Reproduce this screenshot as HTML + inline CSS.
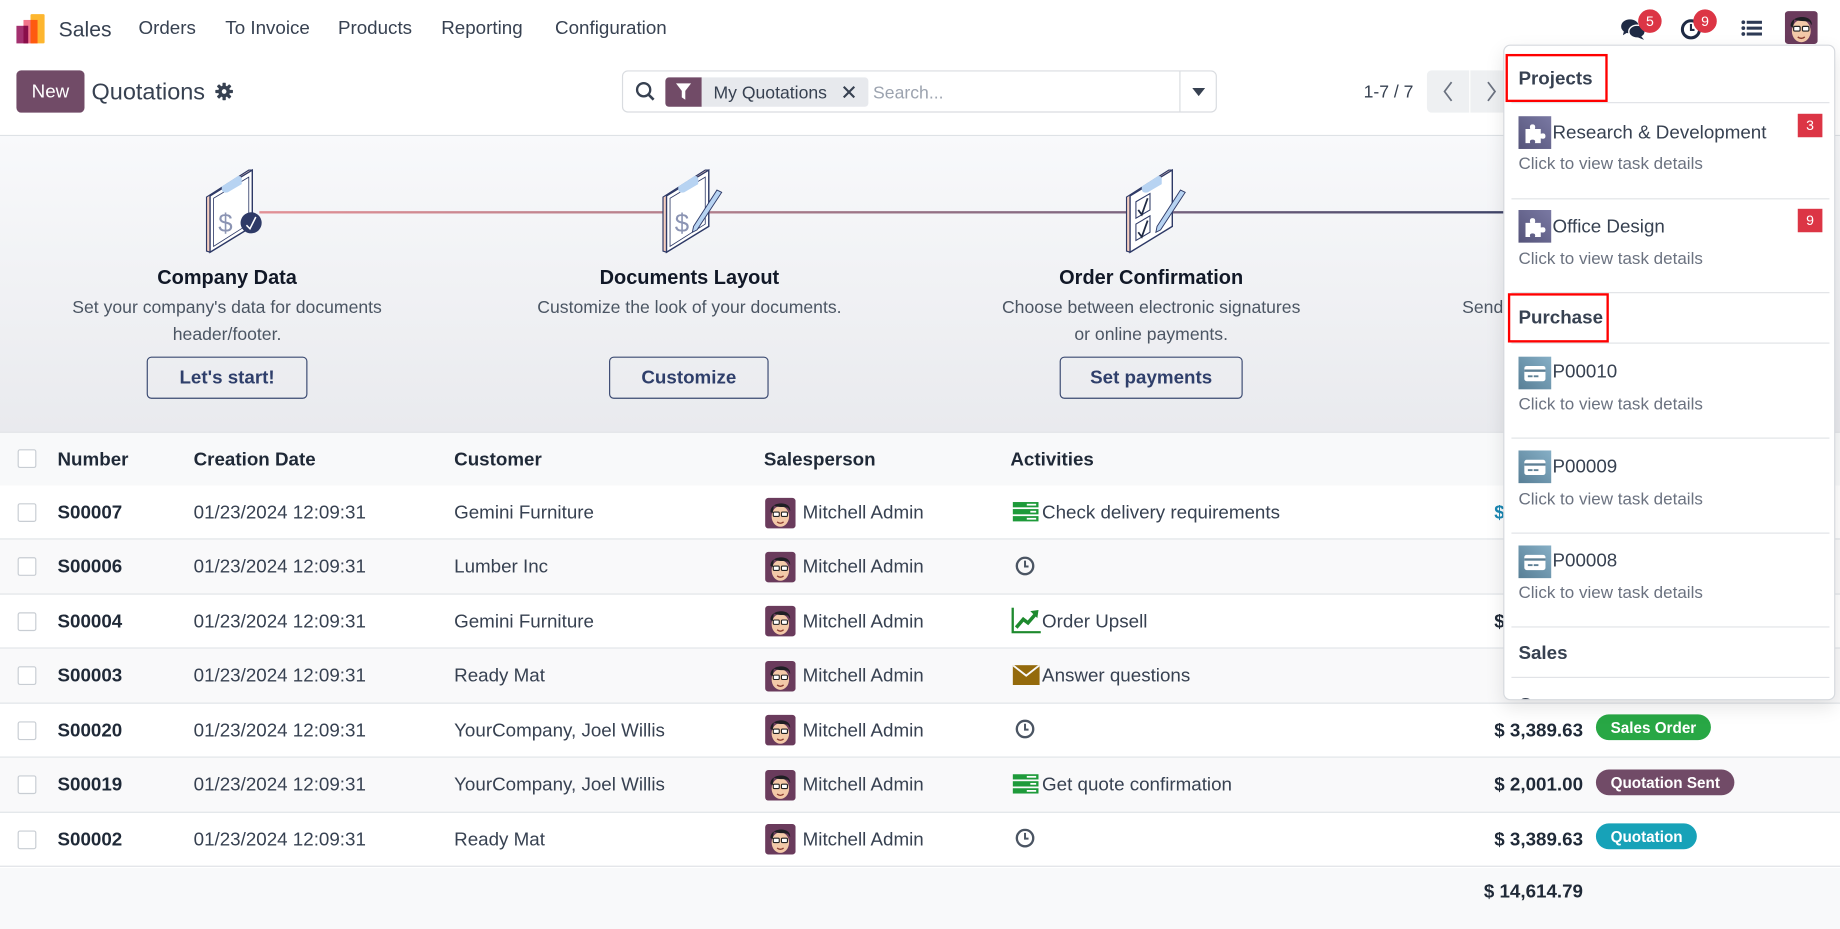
<!DOCTYPE html>
<html><head><meta charset="utf-8">
<style>
html,body{margin:0;padding:0;width:1840px;height:929px;overflow:hidden;background:#fff;}
#root{position:absolute;left:0;top:0;width:1568px;height:792px;transform:scale(1.17347,1.17298);transform-origin:0 0;font-family:"Liberation Sans",Arial,sans-serif;color:#374151;overflow:hidden;background:#fff;}
.a{position:absolute;white-space:nowrap;}
.nav{top:1px;line-height:48px;font-size:16px;color:#374151;}
.hero-col{position:absolute;width:394px;text-align:center;}
.ttl{font-size:17px;font-weight:bold;color:#111827;line-height:22px;}
.desc{font-size:15px;color:#4b5563;line-height:23px;}
.hbtn{position:absolute;top:304px;height:34px;border:1px solid #3b4a72;border-radius:4px;font-size:16px;font-weight:bold;color:#2f3f6b;line-height:36px;text-align:center;}
.row{position:absolute;left:0;width:1568px;height:46.43px;box-sizing:border-box;border-bottom:1px solid #dee2e6;font-size:16px;}
.row .a{line-height:46px;top:1px;}
.row svg.a{top:auto;}
.cb{position:absolute;left:15px;width:14px;height:14px;border:1px solid #c8cdd3;background:#fff;border-radius:2px;}
.num{font-weight:bold;color:#1f2937;}
.amt{font-weight:bold;color:#1f2937;text-align:right;}
.badge{position:absolute;height:22px;line-height:23px;border-radius:11px;color:#fff;font-size:13px;font-weight:bold;padding:0 12.5px;}
.dd{position:absolute;left:1281px;top:38px;width:281px;height:557px;background:#fff;border:1px solid #d6d9de;border-radius:6px;box-shadow:0 6px 16px rgba(0,0,0,0.10);overflow:hidden;z-index:10;}
.sep{position:absolute;left:6px;width:271px;height:0;border-top:1.5px solid #e1e3e7;}
.dh{position:absolute;left:12px;font-size:16px;font-weight:bold;color:#374151;line-height:20px;}
.di{position:absolute;left:41px;font-size:16px;color:#374151;line-height:20px;}
.ds{position:absolute;left:12px;font-size:14.5px;color:#6b7280;line-height:20px;}
.rb{position:absolute;border:2px solid #f00;}
.dbad{position:absolute;left:250px;width:21px;height:20px;background:#dc3545;color:#fff;font-size:12px;line-height:20px;text-align:center;}
</style></head>
<body><div id="root">

<!-- NAVBAR -->
<div class="a" style="left:26px;top:12px;width:12px;height:25px;background:#fdb62f;border-radius:1px"></div>
<div class="a" style="left:19.5px;top:17px;width:9px;height:20px;background:#f2758b"></div>
<div class="a" style="left:25.5px;top:17px;width:6px;height:20px;background:#fe5a10"></div>
<div class="a" style="left:13.5px;top:22px;width:10px;height:15px;background:#a3306f"></div>
<div class="a" style="left:19.5px;top:22px;width:4px;height:15px;background:#8a0e4a"></div>
<div class="a nav" style="left:50px;font-size:18px">Sales</div>
<div class="a nav" style="left:118px">Orders</div>
<div class="a nav" style="left:192px">To Invoice</div>
<div class="a nav" style="left:288px">Products</div>
<div class="a nav" style="left:376px">Reporting</div>
<div class="a nav" style="left:473px">Configuration</div>

<!-- right icons -->
<svg class="a" style="left:1381px;top:15px" width="22" height="20" viewBox="0 0 22 20">
 <ellipse cx="8" cy="7.5" rx="7.5" ry="6" fill="#1f2a44"/>
 <path d="M3 11 L2 15 L7 12Z" fill="#1f2a44"/>
 <ellipse cx="14" cy="12" rx="7" ry="5.5" fill="#1f2a44" stroke="#fff" stroke-width="1.2"/>
 <path d="M17 15 L20 19 L14 16.5Z" fill="#1f2a44"/>
</svg>
<div class="a" style="left:1396px;top:7.5px;width:20px;height:20px;border-radius:50%;background:#dc3545;color:#fff;font-size:12px;line-height:20px;text-align:center">5</div>
<svg class="a" style="left:1432px;top:16px" width="18" height="18" viewBox="0 0 18 18">
 <circle cx="9" cy="9" r="7.3" fill="none" stroke="#1f2a44" stroke-width="2.6"/>
 <path d="M9 4.5 V9.5 H12" stroke="#1f2a44" stroke-width="1.8" fill="none"/>
</svg>
<div class="a" style="left:1443px;top:7.5px;width:20px;height:20px;border-radius:50%;background:#dc3545;color:#fff;font-size:12px;line-height:20px;text-align:center">9</div>
<svg class="a" style="left:1484px;top:17px" width="18" height="14" viewBox="0 0 18 14">
 <circle cx="1.6" cy="2" r="1.6" fill="#2d3a55"/><rect x="4.5" y="0.7" width="13" height="2.6" fill="#2d3a55"/>
 <circle cx="1.6" cy="7" r="1.6" fill="#2d3a55"/><rect x="4.5" y="5.7" width="13" height="2.6" fill="#2d3a55"/>
 <circle cx="1.6" cy="12" r="1.6" fill="#2d3a55"/><rect x="4.5" y="10.7" width="13" height="2.6" fill="#2d3a55"/>
</svg>
<svg class="a" style="left:1521px;top:9px" width="28" height="29" viewBox="0 0 28 28">
 <rect width="28" height="28" rx="3" fill="#6a3b5c"/><ellipse cx="14" cy="17" rx="8" ry="9.5" fill="#f3c9a8"/>
 <path d="M5 13 C4 3 24 2 23 12 L21 9 C17 8 12 9 8 7 L7 14Z" fill="#1f1f24"/>
 <rect x="7.5" y="13" width="5.5" height="4" rx="1" fill="#fff" stroke="#222" stroke-width="1"/>
 <rect x="15" y="13" width="5.5" height="4" rx="1" fill="#fff" stroke="#222" stroke-width="1"/>
 <path d="M11 22 Q14 24.5 17 22" stroke="#8a3b2f" stroke-width="1.2" fill="none"/>
</svg>

<!-- CONTROL PANEL -->
<div class="a" style="left:14px;top:60px;width:58px;height:36px;background:#714b67;border-radius:4px;color:#fff;font-size:16px;line-height:37px;text-align:center">New</div>
<div class="a" style="left:78px;top:67px;font-size:20px;line-height:24px;color:#374151">Quotations</div>
<svg class="a" style="left:183px;top:70px" width="16" height="16" viewBox="0 0 16 16">
 <g fill="#374151"><circle cx="8" cy="8" r="5"/>
 <rect x="6.6" y="0.5" width="2.8" height="15" rx="0.6"/><rect x="0.5" y="6.6" width="15" height="2.8" rx="0.6"/>
 <rect x="6.6" y="0.5" width="2.8" height="15" rx="0.6" transform="rotate(45 8 8)"/><rect x="6.6" y="0.5" width="2.8" height="15" rx="0.6" transform="rotate(-45 8 8)"/></g>
 <circle cx="8" cy="8" r="2" fill="#fff"/>
</svg>

<div class="a" style="left:530px;top:60px;width:505px;height:34px;border:1px solid #d9dce0;border-radius:5px"></div>
<svg class="a" style="left:541px;top:69px" width="18" height="18" viewBox="0 0 18 18">
 <circle cx="7.5" cy="7.5" r="5.6" fill="none" stroke="#374151" stroke-width="2"/>
 <path d="M11.5 11.5 L16 16" stroke="#374151" stroke-width="2.2"/>
</svg>
<div class="a" style="left:567px;top:66px;width:31px;height:25px;background:#714b67;border-radius:3px 0 0 3px"></div>
<svg class="a" style="left:576px;top:71px" width="13" height="15" viewBox="0 0 13 15"><path d="M0 0 H13 L8 6.5 V14 L5 12 V6.5Z" fill="#fff"/></svg>
<div class="a" style="left:598px;top:66px;width:142px;height:25px;background:#e7e9ed;border-radius:0 3px 3px 0"></div>
<div class="a" style="left:608px;top:67px;font-size:15px;line-height:25px;color:#374151">My Quotations</div>
<svg class="a" style="left:718px;top:73px" width="11" height="11" viewBox="0 0 11 11"><path d="M1 1 L10 10 M10 1 L1 10" stroke="#374151" stroke-width="1.8"/></svg>
<div class="a" style="left:744px;top:67px;font-size:15px;line-height:25px;color:#9ca3af">Search...</div>
<div class="a" style="left:1005px;top:61px;width:1px;height:34px;background:#d9dce0"></div>
<svg class="a" style="left:1016px;top:75px" width="11" height="7" viewBox="0 0 11 7"><path d="M0 0 H11 L5.5 7Z" fill="#374151"/></svg>

<div class="a" style="left:1162px;top:67px;font-size:15px;line-height:24px;color:#374151">1-7 / 7</div>
<div class="a" style="left:1216px;top:60px;width:36px;height:36px;background:#eef0f2;border-radius:4px 0 0 4px"></div>
<div class="a" style="left:1253px;top:60px;width:36px;height:36px;background:#eef0f2"></div>
<svg class="a" style="left:1229px;top:69px" width="10" height="18" viewBox="0 0 10 18"><path d="M8 1 L2 9 L8 17" stroke="#6b7280" stroke-width="1.5" fill="none"/></svg>
<svg class="a" style="left:1266px;top:69px" width="10" height="18" viewBox="0 0 10 18"><path d="M2 1 L8 9 L2 17" stroke="#6b7280" stroke-width="1.5" fill="none"/></svg>

<div class="a" style="left:0;top:115px;width:1568px;height:1px;background:#dee2e6"></div>

<!-- HERO -->
<div class="a" style="left:0;top:116px;width:1568px;height:252px;background:linear-gradient(180deg,#f8f9fb 0%,#e9eaee 100%)"></div>
<div class="a" style="left:0;top:368px;width:1568px;height:1px;background:#dcdfe4"></div>
<div class="a" style="left:221px;top:179.5px;width:1154px;height:2px;background:linear-gradient(90deg,#e29096 0%,#b27f8c 32%,#78637f 66%,#3f4468 92%,#3b4266 100%)"></div>

<!-- icon 1 -->
<svg class="a" style="left:175px;top:142px" width="50" height="75" viewBox="0 0 50 75">
 <polygon points="1,26 37,3 40,3 40,51 4,73 1,72" fill="#f6cfc0" stroke="#2e3a67" stroke-width="1"/>
 <polygon points="4,25 40,3 40,51 4,73" fill="#fff" stroke="#2e3a67" stroke-width="1.2"/>
 <polygon points="7,27 37,9 37,49 7,68" fill="none" stroke="#2e3a67" stroke-width="0.7"/>
 <path d="M14,17 L25,10 Q29,6 31,10 L31,15 L19,22 Q14,23 14,19Z" fill="#b7d3f2"/>
 <text x="11" y="56" font-family="Liberation Sans" font-size="22" fill="#8b94b3">$</text>
 <circle cx="39" cy="48" r="9" fill="#2e3a67"/>
 <path d="M35 50 L38 53 L43 43" stroke="#fff" stroke-width="1.3" fill="none"/>
</svg>
<!-- icon 2 -->
<svg class="a" style="left:564px;top:142px" width="52" height="75" viewBox="0 0 52 75">
 <polygon points="1,26 37,3 40,3 40,51 4,73 1,72" fill="#f6cfc0" stroke="#2e3a67" stroke-width="1"/>
 <polygon points="4,25 40,3 40,51 4,73" fill="#fff" stroke="#2e3a67" stroke-width="1.2"/>
 <polygon points="7,27 37,9 37,49 7,68" fill="none" stroke="#2e3a67" stroke-width="0.7"/>
 <path d="M14,17 L25,10 Q29,6 31,10 L31,15 L19,22 Q14,23 14,19Z" fill="#b7d3f2"/>
 <text x="11" y="56" font-family="Liberation Sans" font-size="22" fill="#8b94b3">$</text>
 <polygon points="47,20 51,22 30,54 26,56 27,51" fill="#b7d3f2" stroke="#2e3a67" stroke-width="0.8"/>
</svg>
<!-- icon 3 -->
<svg class="a" style="left:959px;top:142px" width="52" height="75" viewBox="0 0 52 75">
 <polygon points="1,26 37,3 40,3 40,51 4,73 1,72" fill="#f6cfc0" stroke="#2e3a67" stroke-width="1"/>
 <polygon points="4,25 40,3 40,51 4,73" fill="#fff" stroke="#2e3a67" stroke-width="1.2"/>
 <path d="M14,17 L25,10 Q29,6 31,10 L31,15 L19,22 Q14,23 14,19Z" fill="#b7d3f2"/>
 <polygon points="9,30 21,23 21,37 9,44" fill="none" stroke="#2e3a67" stroke-width="0.9"/>
 <polygon points="9,49 21,42 21,56 9,63" fill="none" stroke="#2e3a67" stroke-width="0.9"/>
 <path d="M11 37 L14 41 L19 27" stroke="#1f2a44" stroke-width="1.5" fill="none"/>
 <path d="M11 56 L14 60 L19 46" stroke="#1f2a44" stroke-width="1.5" fill="none"/>
 <polygon points="47,20 51,22 30,54 26,56 27,51" fill="#b7d3f2" stroke="#2e3a67" stroke-width="0.8"/>
</svg>

<div class="hero-col" style="left:-3.5px;top:226px"><div class="ttl">Company Data</div></div>
<div class="hero-col" style="left:-3.5px;top:250.5px"><div class="desc">Set your company's data for documents<br>header/footer.</div></div>
<div class="hbtn" style="left:125px;width:135px">Let's start!</div>

<div class="hero-col" style="left:390.5px;top:226px"><div class="ttl">Documents Layout</div></div>
<div class="hero-col" style="left:390.5px;top:250.5px"><div class="desc">Customize the look of your documents.</div></div>
<div class="hbtn" style="left:519px;width:134px">Customize</div>

<div class="hero-col" style="left:784px;top:226px"><div class="ttl">Order Confirmation</div></div>
<div class="hero-col" style="left:784px;top:250.5px"><div class="desc">Choose between electronic signatures<br>or online payments.</div></div>
<div class="hbtn" style="left:903px;width:154px">Set payments</div>

<div class="a desc" style="left:1246px;top:250.5px">Send a quotation to test the</div>

<!-- TABLE HEADER -->
<div class="a" style="left:0;top:369px;width:1568px;height:45px;background:#f8f9fa"></div>
<div class="cb" style="top:383px"></div>
<div class="a" style="top:370px;line-height:45px;font-size:16px;font-weight:bold;color:#1f2937;left:49px">Number</div>
<div class="a" style="top:370px;line-height:45px;font-size:16px;font-weight:bold;color:#1f2937;left:165px">Creation Date</div>
<div class="a" style="top:370px;line-height:45px;font-size:16px;font-weight:bold;color:#1f2937;left:387px">Customer</div>
<div class="a" style="top:370px;line-height:45px;font-size:16px;font-weight:bold;color:#1f2937;left:651px">Salesperson</div>
<div class="a" style="top:370px;line-height:45px;font-size:16px;font-weight:bold;color:#1f2937;left:861px">Activities</div>

<!-- ROWS -->
<div class="row" style="top:414px;background:#fff">
 <div class="cb" style="top:15px"></div>
 <div class="a num" style="left:49px">S00007</div>
 <div class="a" style="left:165px">01/23/2024 12:09:31</div>
 <div class="a" style="left:387px">Gemini Furniture</div>
 <svg class="a" style="left:652px;top:9.5px" width="26" height="27" viewBox="0 0 28 28"><rect width="28" height="28" rx="3" fill="#6a3b5c"/><ellipse cx="14" cy="17" rx="8" ry="9.5" fill="#f3c9a8"/><path d="M5 13 C4 3 24 2 23 12 L21 9 C17 8 12 9 8 7 L7 14Z" fill="#1f1f24"/><rect x="7.5" y="13" width="5.5" height="4" rx="1" fill="#fff" stroke="#222" stroke-width="1"/><rect x="15" y="13" width="5.5" height="4" rx="1" fill="#fff" stroke="#222" stroke-width="1"/><path d="M11 22 Q14 24.5 17 22" stroke="#8a3b2f" stroke-width="1.2" fill="none"/></svg>
 <div class="a" style="left:684px">Mitchell Admin</div>
 <svg class="a" style="left:863px;top:14px" width="22" height="17" viewBox="0 0 22 17"><rect width="22" height="4.5" fill="#1e9a3a"/><rect y="6" width="22" height="4.5" fill="#1e9a3a"/><rect y="12" width="22" height="4.5" fill="#1e9a3a"/><rect x="12" y="1.5" width="8" height="1.5" fill="#fff"/><rect x="15" y="7.5" width="5" height="1.5" fill="#fff"/><rect x="12" y="13.5" width="8" height="1.5" fill="#fff"/></svg>
 <div class="a" style="left:888px">Check delivery requirements</div>
 <div class="a amt" style="left:1249px;width:100px;color:#1a87b3">$ 2,947.50</div>
</div>

<div class="row" style="top:460.43px;background:#f9f9fa">
 <div class="cb" style="top:15px"></div>
 <div class="a num" style="left:49px">S00006</div>
 <div class="a" style="left:165px">01/23/2024 12:09:31</div>
 <div class="a" style="left:387px">Lumber Inc</div>
 <svg class="a" style="left:652px;top:9.5px" width="26" height="27" viewBox="0 0 28 28"><rect width="28" height="28" rx="3" fill="#6a3b5c"/><ellipse cx="14" cy="17" rx="8" ry="9.5" fill="#f3c9a8"/><path d="M5 13 C4 3 24 2 23 12 L21 9 C17 8 12 9 8 7 L7 14Z" fill="#1f1f24"/><rect x="7.5" y="13" width="5.5" height="4" rx="1" fill="#fff" stroke="#222" stroke-width="1"/><rect x="15" y="13" width="5.5" height="4" rx="1" fill="#fff" stroke="#222" stroke-width="1"/><path d="M11 22 Q14 24.5 17 22" stroke="#8a3b2f" stroke-width="1.2" fill="none"/></svg>
 <div class="a" style="left:684px">Mitchell Admin</div>
 <svg class="a" style="left:865px;top:13.5px" width="17" height="17" viewBox="0 0 17 17"><circle cx="8.5" cy="8.5" r="7" fill="none" stroke="#4b5563" stroke-width="2"/><path d="M8.5 4 V9 H11.5" stroke="#4b5563" stroke-width="1.7" fill="none"/></svg>
 <div class="a amt" style="left:1249px;width:100px">$ 750.00</div>
</div>

<div class="row" style="top:506.86px;background:#fff">
 <div class="cb" style="top:15px"></div>
 <div class="a num" style="left:49px">S00004</div>
 <div class="a" style="left:165px">01/23/2024 12:09:31</div>
 <div class="a" style="left:387px">Gemini Furniture</div>
 <svg class="a" style="left:652px;top:9.5px" width="26" height="27" viewBox="0 0 28 28"><rect width="28" height="28" rx="3" fill="#6a3b5c"/><ellipse cx="14" cy="17" rx="8" ry="9.5" fill="#f3c9a8"/><path d="M5 13 C4 3 24 2 23 12 L21 9 C17 8 12 9 8 7 L7 14Z" fill="#1f1f24"/><rect x="7.5" y="13" width="5.5" height="4" rx="1" fill="#fff" stroke="#222" stroke-width="1"/><rect x="15" y="13" width="5.5" height="4" rx="1" fill="#fff" stroke="#222" stroke-width="1"/><path d="M11 22 Q14 24.5 17 22" stroke="#8a3b2f" stroke-width="1.2" fill="none"/></svg>
 <div class="a" style="left:684px">Mitchell Admin</div>
 <svg class="a" style="left:862px;top:11px" width="25" height="22" viewBox="0 0 25 22"><path d="M1 0 V21 H25" stroke="#1e8a2e" stroke-width="2" fill="none"/><path d="M4 17 L10 10 L14 13 L21 5" stroke="#1e8a2e" stroke-width="3" fill="none"/><path d="M16 3 L23 2 L22 9Z" fill="#1e8a2e"/></svg>
 <div class="a" style="left:888px">Order Upsell</div>
 <div class="a amt" style="left:1249px;width:100px">$ 2,240.00</div>
</div>

<div class="row" style="top:553.29px;background:#f9f9fa">
 <div class="cb" style="top:15px"></div>
 <div class="a num" style="left:49px">S00003</div>
 <div class="a" style="left:165px">01/23/2024 12:09:31</div>
 <div class="a" style="left:387px">Ready Mat</div>
 <svg class="a" style="left:652px;top:9.5px" width="26" height="27" viewBox="0 0 28 28"><rect width="28" height="28" rx="3" fill="#6a3b5c"/><ellipse cx="14" cy="17" rx="8" ry="9.5" fill="#f3c9a8"/><path d="M5 13 C4 3 24 2 23 12 L21 9 C17 8 12 9 8 7 L7 14Z" fill="#1f1f24"/><rect x="7.5" y="13" width="5.5" height="4" rx="1" fill="#fff" stroke="#222" stroke-width="1"/><rect x="15" y="13" width="5.5" height="4" rx="1" fill="#fff" stroke="#222" stroke-width="1"/><path d="M11 22 Q14 24.5 17 22" stroke="#8a3b2f" stroke-width="1.2" fill="none"/></svg>
 <div class="a" style="left:684px">Mitchell Admin</div>
 <svg class="a" style="left:863px;top:14px" width="23" height="17" viewBox="0 0 23 17"><rect width="23" height="17" fill="#946a0c"/><path d="M0 0 L11.5 9 L23 0" stroke="#f9f9fa" stroke-width="1.6" fill="none"/></svg>
 <div class="a" style="left:888px">Answer questions</div>
 <div class="a amt" style="left:1249px;width:100px">$ 844.03</div>
</div>

<div class="row" style="top:599.72px;background:#fff">
 <div class="cb" style="top:15px"></div>
 <div class="a num" style="left:49px">S00020</div>
 <div class="a" style="left:165px">01/23/2024 12:09:31</div>
 <div class="a" style="left:387px">YourCompany, Joel Willis</div>
 <svg class="a" style="left:652px;top:9.5px" width="26" height="27" viewBox="0 0 28 28"><rect width="28" height="28" rx="3" fill="#6a3b5c"/><ellipse cx="14" cy="17" rx="8" ry="9.5" fill="#f3c9a8"/><path d="M5 13 C4 3 24 2 23 12 L21 9 C17 8 12 9 8 7 L7 14Z" fill="#1f1f24"/><rect x="7.5" y="13" width="5.5" height="4" rx="1" fill="#fff" stroke="#222" stroke-width="1"/><rect x="15" y="13" width="5.5" height="4" rx="1" fill="#fff" stroke="#222" stroke-width="1"/><path d="M11 22 Q14 24.5 17 22" stroke="#8a3b2f" stroke-width="1.2" fill="none"/></svg>
 <div class="a" style="left:684px">Mitchell Admin</div>
 <svg class="a" style="left:865px;top:13.5px" width="17" height="17" viewBox="0 0 17 17"><circle cx="8.5" cy="8.5" r="7" fill="none" stroke="#4b5563" stroke-width="2"/><path d="M8.5 4 V9 H11.5" stroke="#4b5563" stroke-width="1.7" fill="none"/></svg>
 <div class="a amt" style="left:1249px;width:100px">$ 3,389.63</div>
 <div class="badge" style="left:1360px;top:9.5px;background:#28a745">Sales Order</div>
</div>

<div class="row" style="top:646.15px;background:#f9f9fa">
 <div class="cb" style="top:15px"></div>
 <div class="a num" style="left:49px">S00019</div>
 <div class="a" style="left:165px">01/23/2024 12:09:31</div>
 <div class="a" style="left:387px">YourCompany, Joel Willis</div>
 <svg class="a" style="left:652px;top:9.5px" width="26" height="27" viewBox="0 0 28 28"><rect width="28" height="28" rx="3" fill="#6a3b5c"/><ellipse cx="14" cy="17" rx="8" ry="9.5" fill="#f3c9a8"/><path d="M5 13 C4 3 24 2 23 12 L21 9 C17 8 12 9 8 7 L7 14Z" fill="#1f1f24"/><rect x="7.5" y="13" width="5.5" height="4" rx="1" fill="#fff" stroke="#222" stroke-width="1"/><rect x="15" y="13" width="5.5" height="4" rx="1" fill="#fff" stroke="#222" stroke-width="1"/><path d="M11 22 Q14 24.5 17 22" stroke="#8a3b2f" stroke-width="1.2" fill="none"/></svg>
 <div class="a" style="left:684px">Mitchell Admin</div>
 <svg class="a" style="left:863px;top:14px" width="22" height="17" viewBox="0 0 22 17"><rect width="22" height="4.5" fill="#1e9a3a"/><rect y="6" width="22" height="4.5" fill="#1e9a3a"/><rect y="12" width="22" height="4.5" fill="#1e9a3a"/><rect x="12" y="1.5" width="8" height="1.5" fill="#fff"/><rect x="15" y="7.5" width="5" height="1.5" fill="#fff"/><rect x="12" y="13.5" width="8" height="1.5" fill="#fff"/></svg>
 <div class="a" style="left:888px">Get quote confirmation</div>
 <div class="a amt" style="left:1249px;width:100px">$ 2,001.00</div>
 <div class="badge" style="left:1360px;top:9.5px;background:#714b67">Quotation Sent</div>
</div>

<div class="row" style="top:692.58px;background:#fff">
 <div class="cb" style="top:15px"></div>
 <div class="a num" style="left:49px">S00002</div>
 <div class="a" style="left:165px">01/23/2024 12:09:31</div>
 <div class="a" style="left:387px">Ready Mat</div>
 <svg class="a" style="left:652px;top:9.5px" width="26" height="27" viewBox="0 0 28 28"><rect width="28" height="28" rx="3" fill="#6a3b5c"/><ellipse cx="14" cy="17" rx="8" ry="9.5" fill="#f3c9a8"/><path d="M5 13 C4 3 24 2 23 12 L21 9 C17 8 12 9 8 7 L7 14Z" fill="#1f1f24"/><rect x="7.5" y="13" width="5.5" height="4" rx="1" fill="#fff" stroke="#222" stroke-width="1"/><rect x="15" y="13" width="5.5" height="4" rx="1" fill="#fff" stroke="#222" stroke-width="1"/><path d="M11 22 Q14 24.5 17 22" stroke="#8a3b2f" stroke-width="1.2" fill="none"/></svg>
 <div class="a" style="left:684px">Mitchell Admin</div>
 <svg class="a" style="left:865px;top:13.5px" width="17" height="17" viewBox="0 0 17 17"><circle cx="8.5" cy="8.5" r="7" fill="none" stroke="#4b5563" stroke-width="2"/><path d="M8.5 4 V9 H11.5" stroke="#4b5563" stroke-width="1.7" fill="none"/></svg>
 <div class="a amt" style="left:1249px;width:100px">$ 3,389.63</div>
 <div class="badge" style="left:1360px;top:9.5px;background:#17a2b8">Quotation</div>
</div>

<!-- FOOTER -->
<div class="a" style="left:0;top:740px;width:1568px;height:52px;background:#f8f9fa"></div>
<div class="a" style="left:1229px;top:740px;width:120px;text-align:right;line-height:42px;font-size:16px;font-weight:bold;color:#1f2937">$ 14,614.79</div>

<!-- DROPDOWN -->
<div class="dd">
 <div class="rb" style="left:1px;top:7px;width:83px;height:37px"></div>
 <div class="dh" style="top:19px">Projects</div>
 <div class="sep" style="top:48px"></div>

 <svg class="a" style="left:12px;top:60px" width="28" height="28" viewBox="0 0 28 28"><defs><linearGradient id="pg" x1="0" y1="1" x2="1" y2="0"><stop offset="0" stop-color="#55547a"/><stop offset="1" stop-color="#7a79a3"/></linearGradient></defs><rect width="28" height="28" fill="url(#pg)"/><path d="M6 11 H10 Q9 7 12 7 Q15 7 14 11 H19 V15 Q23 14 23 17 Q23 20 19 19 V23 H14 Q15 20 12 20 Q9 20 10 23 H6Z" fill="#fff"/></svg>
 <div class="di" style="top:65px">Research &amp; Development</div>
 <div class="dbad" style="top:58px">3</div>
 <div class="ds" style="top:91px">Click to view task details</div>
 <div class="sep" style="top:130px"></div>

 <svg class="a" style="left:12px;top:140px" width="28" height="28" viewBox="0 0 28 28"><defs><linearGradient id="pg2" x1="0" y1="1" x2="1" y2="0"><stop offset="0" stop-color="#55547a"/><stop offset="1" stop-color="#7a79a3"/></linearGradient></defs><rect width="28" height="28" fill="url(#pg2)"/><path d="M6 11 H10 Q9 7 12 7 Q15 7 14 11 H19 V15 Q23 14 23 17 Q23 20 19 19 V23 H14 Q15 20 12 20 Q9 20 10 23 H6Z" fill="#fff"/></svg>
 <div class="di" style="top:145px">Office Design</div>
 <div class="dbad" style="top:139px">9</div>
 <div class="ds" style="top:172px">Click to view task details</div>
 <div class="sep" style="top:210px"></div>

 <div class="rb" style="left:3px;top:211px;width:82px;height:38px"></div>
 <div class="dh" style="top:223px">Purchase</div>
 <div class="sep" style="top:253px"></div>

 <svg class="a" style="left:12px;top:264.5px" width="28" height="28" viewBox="0 0 28 28"><defs><linearGradient id="cg" x1="0" y1="1" x2="1" y2="0"><stop offset="0" stop-color="#587f96"/><stop offset="1" stop-color="#86afc6"/></linearGradient></defs><rect width="28" height="28" fill="url(#cg)"/><rect x="5" y="8" width="18" height="13" rx="2" fill="#fff"/><rect x="5" y="11" width="18" height="2" fill="#5d7f94"/><rect x="8" y="16" width="4" height="1.6" fill="#5d7f94"/><rect x="13" y="16" width="4" height="1.6" fill="#5d7f94"/></svg>
 <div class="di" style="top:269px">P00010</div>
 <div class="ds" style="top:295.5px">Click to view task details</div>
 <div class="sep" style="top:334px"></div>

 <svg class="a" style="left:12px;top:345px" width="28" height="28" viewBox="0 0 28 28"><defs><linearGradient id="cg2" x1="0" y1="1" x2="1" y2="0"><stop offset="0" stop-color="#587f96"/><stop offset="1" stop-color="#86afc6"/></linearGradient></defs><rect width="28" height="28" fill="url(#cg2)"/><rect x="5" y="8" width="18" height="13" rx="2" fill="#fff"/><rect x="5" y="11" width="18" height="2" fill="#5d7f94"/><rect x="8" y="16" width="4" height="1.6" fill="#5d7f94"/><rect x="13" y="16" width="4" height="1.6" fill="#5d7f94"/></svg>
 <div class="di" style="top:350px">P00009</div>
 <div class="ds" style="top:376.5px">Click to view task details</div>
 <div class="sep" style="top:415px"></div>

 <svg class="a" style="left:12px;top:425.5px" width="28" height="28" viewBox="0 0 28 28"><defs><linearGradient id="cg3" x1="0" y1="1" x2="1" y2="0"><stop offset="0" stop-color="#587f96"/><stop offset="1" stop-color="#86afc6"/></linearGradient></defs><rect width="28" height="28" fill="url(#cg3)"/><rect x="5" y="8" width="18" height="13" rx="2" fill="#fff"/><rect x="5" y="11" width="18" height="2" fill="#5d7f94"/><rect x="8" y="16" width="4" height="1.6" fill="#5d7f94"/><rect x="13" y="16" width="4" height="1.6" fill="#5d7f94"/></svg>
 <div class="di" style="top:430px">P00008</div>
 <div class="ds" style="top:456.5px">Click to view task details</div>
 <div class="sep" style="top:495px"></div>

 <div class="dh" style="top:508.5px">Sales</div>
 <div class="sep" style="top:538px"></div>
 <div class="dh" style="top:553px">Crm</div>
</div>

</div></body></html>
